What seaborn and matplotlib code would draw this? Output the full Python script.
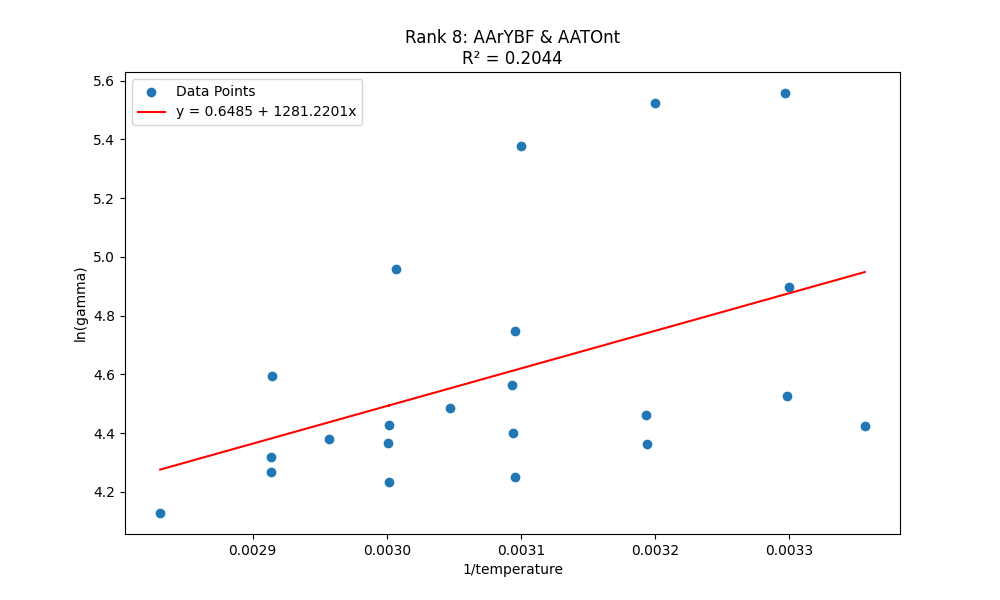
import numpy as np
import matplotlib
matplotlib.use('Agg')
import matplotlib.pyplot as plt
import seaborn as sns
import pandas as pd

# values
inv_temp = [0.0028312, 0.0029134, 0.0029141, 0.0029144, 0.0029570, 0.0030019,
            0.0030012, 0.0030019, 0.0030071, 0.0030471, 0.0030935, 0.0030940,
            0.0030952, 0.0030952, 0.0030999, 0.0031930, 0.0031938, 0.0031995,
            0.0032963, 0.0032985, 0.0033000, 0.0033561]
ln_gamma = [4.128, 4.318, 4.267, 4.595, 4.379, 4.427,
            4.366, 4.233, 4.958, 4.486, 4.564, 4.400,
            4.747, 4.250, 5.377, 4.461, 4.362, 5.524,
            5.558, 4.527, 4.898, 4.425]

intercept = 0.6485
slope = 1281.2201
r_squared = 0.2044

df = pd.DataFrame({'x': inv_temp, 'y': ln_gamma})
fit = intercept + slope * df['x']

# Plot setup
fig, ax = plt.subplots(figsize=(10, 6))

sns.scatterplot(x='x', y='y', data=df, ax=ax, color='#1f77b4', s=36,
                edgecolor='#1f77b4', linewidth=1, label='Data Points')
ax.plot(df['x'], fit, color='red', label=f'y = {intercept:.4f} + {slope:.4f}x')

# titles
ax.set_title(f"Rank 8: AArYBF & AATOnt\nR\u00b2 = {r_squared:.4f}")

# axes
ax.set_xlabel('1/temperature')
ax.set_ylabel('ln(gamma)')
ax.legend(loc='upper left')

fig.savefig('out.png', dpi=100)
